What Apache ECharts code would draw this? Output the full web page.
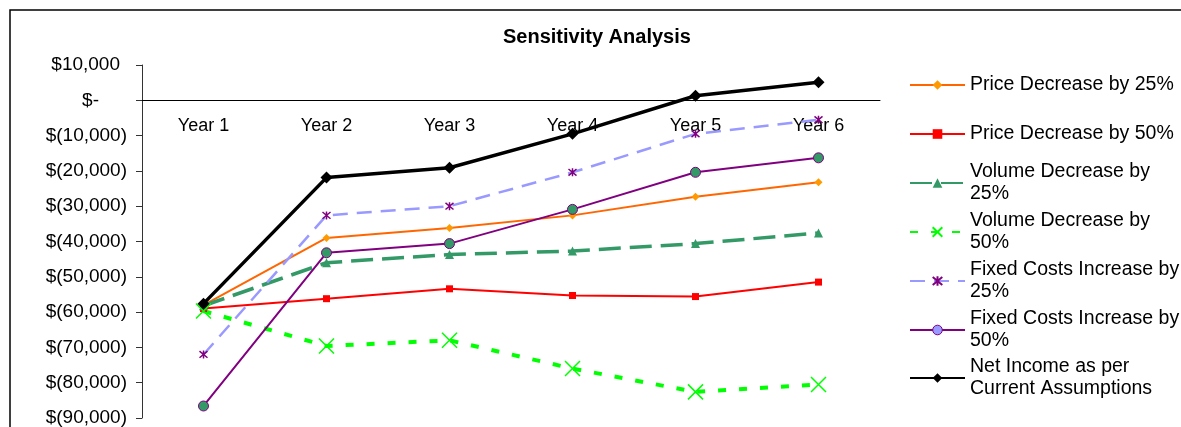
<!DOCTYPE html>
<html>
<head>
<meta charset="utf-8">
<script src="https://cdn.jsdelivr.net/npm/echarts@6/dist/echarts.min.js"></script>
<style>
  html, body { margin: 0; padding: 0; background: #ffffff; }
  #chart { width: 1181px; height: 427px; }
</style>
</head>
<body>
<div id="chart"></div>
<script>
// Categories
const years = ['Year 1', 'Year 2', 'Year 3', 'Year 4', 'Year 5', 'Year 6'];

// Net income per scenario, in dollars
const priceDecrease25 = [-58000, -39000, -36200, -32600, -27300, -23200];
const priceDecrease50 = [-59000, -56200, -53400, -55300, -55600, -51500];
const volumeDecrease25 = [-58200, -46000, -43700, -42700, -40600, -37600];
const volumeDecrease50 = [-59700, -69600, -68000, -76000, -82600, -80500];
const fixedCostsIncrease25 = [-72000, -32600, -30000, -20400, -9500, -5500];
const fixedCostsIncrease50 = [-86600, -43200, -40600, -30900, -20400, -16300];
const currentAssumptions = [-57600, -21900, -19100, -9500, 1300, 5100];

// Series names and their legend text
const seriesNames = [
  'Price Decrease by 25%',
  'Price Decrease by 50%',
  'Volume Decrease by 25%',
  'Volume Decrease by 50%',
  'Fixed Costs Increase by 25%',
  'Fixed Costs Increase by 50%',
  'Net Income as per Current Assumptions'
];
const legendText = [
  'Price Decrease by 25%',
  'Price Decrease by 50%',
  'Volume Decrease by\n25%',
  'Volume Decrease by\n50%',
  'Fixed Costs Increase by\n25%',
  'Fixed Costs Increase by\n50%',
  'Net Income as per\nCurrent Assumptions'
];

// Value axis range
const yMin = -90000;
const yMax = 10000;
const yStep = 10000;

const FONT = '"Liberation Sans", Arial, Helvetica, sans-serif';

// Accounting style: $10,000 / $- / $(10,000)
function money(v) {
  const abs = Math.abs(v).toLocaleString('en-US');
  if (v === 0) return '{z|$-}';
  if (v < 0) return '{n|$(' + abs + ')}';
  return '{p|$' + abs + '}';
}

const crossPath = 'path://M0,0L10,10M10,0L0,10';
const starPath = 'path://M0,0L10,10M10,0L0,10M5,-1L5,11';

const series = [
  {
    name: seriesNames[0], data: priceDecrease25,
    lineStyle: { color: '#FF6600', width: 2 },
    symbol: 'diamond', symbolSize: 8,
    itemStyle: { color: '#FF9900', borderColor: '#FF9900', borderWidth: 0 }
  },
  {
    name: seriesNames[1], data: priceDecrease50,
    lineStyle: { color: '#FF0000', width: 2 },
    symbol: 'rect', symbolSize: 7,
    itemStyle: { color: '#FF0000', borderColor: '#FF0000', borderWidth: 0 }
  },
  {
    name: seriesNames[2], data: volumeDecrease25,
    lineStyle: { color: '#339966', width: 3.5, type: [22, 9] },
    symbol: 'triangle', symbolSize: 9,
    itemStyle: { color: '#339966', borderColor: '#339966', borderWidth: 0 }
  },
  {
    name: seriesNames[3], data: volumeDecrease50,
    lineStyle: { color: '#00FF00', width: 4, type: [8, 13] },
    symbol: crossPath, symbolSize: 15,
    itemStyle: { color: 'rgba(0,0,0,0)', borderColor: '#00FF00', borderWidth: 1.5 }
  },
  {
    name: seriesNames[4], data: fixedCostsIncrease25,
    lineStyle: { color: '#9999FF', width: 2.5, type: [15, 9] },
    symbol: starPath, symbolSize: 8,
    itemStyle: { color: 'rgba(0,0,0,0)', borderColor: '#800080', borderWidth: 1.5 }
  },
  {
    name: seriesNames[5], data: fixedCostsIncrease50,
    lineStyle: { color: '#800080', width: 2 },
    symbol: 'circle', symbolSize: 10,
    itemStyle: { color: '#339966', borderColor: '#800080', borderWidth: 1 }
  },
  {
    name: seriesNames[6], data: currentAssumptions,
    lineStyle: { color: '#000000', width: 3.5 },
    symbol: 'diamond', symbolSize: 12,
    itemStyle: { color: '#000000', borderColor: '#000000', borderWidth: 0 }
  }
].map(s => Object.assign({
  type: 'line',
  showSymbol: true,
  showAllSymbol: true,
  emphasis: { disabled: true }
}, s));

// One legend block per entry, first text line level with the icon
const legendRows = [85, 134, 183, 232, 281, 330, 378];
const legends = seriesNames.map((name, i) => {
  const twoLine = legendText[i].indexOf('\n') >= 0;
  const item = (i === 5)
    ? { name: name, itemStyle: { color: '#9999FF', borderColor: '#800080', borderWidth: 1 } }
    : name;
  return {
    orient: 'vertical',
    left: 909,
    top: legendRows[i] - (twoLine ? 33 : 11),
    padding: 0,
    itemWidth: 55,
    itemHeight: 12,
    itemGap: 0,
    selectedMode: false,
    data: [item],
    formatter: () => legendText[i],
    textStyle: {
      fontFamily: FONT, fontSize: 19.5, lineHeight: 22, color: '#000000',
      padding: twoLine ? [22, 0, 0, 0] : 0
    }
  };
});

const labelFont = { fontFamily: FONT, fontSize: 19, color: '#000000' };

const GRID = { left: 142, right: 301, top: 65, bottom: 9 };
const CHART_H = 427;

// The category axis sits on the zero line, with its labels just below it
const plotH = CHART_H - GRID.top - GRID.bottom;
const zeroY = GRID.top + plotH * (yMax - 0) / (yMax - yMin);
const xAxisOffset = zeroY - (CHART_H - GRID.bottom);

const option = {
  animation: false,
  backgroundColor: '#ffffff',
  title: {
    text: 'Sensitivity Analysis',
    left: 503,
    top: 27,
    padding: 0,
    textStyle: { fontFamily: FONT, fontSize: 20, fontWeight: 'bold', color: '#000000', lineHeight: 20 }
  },
  graphic: [{
    type: 'rect',
    z: -10,
    shape: { x: 10, y: 10, width: 1300, height: 600 },
    style: { fill: 'none', stroke: '#000000', lineWidth: 1.5 },
    silent: true
  }],
  legend: legends,
  grid: Object.assign({ containLabel: false, outerBoundsMode: 'none' }, GRID),
  xAxis: {
    type: 'category',
    data: years,
    position: 'bottom',
    offset: xAxisOffset,
    boundaryGap: true,
    axisLine: { onZero: false, lineStyle: { color: '#000000', width: 1 } },
    axisTick: { show: false },
    splitLine: { show: false },
    axisLabel: { fontFamily: FONT, fontSize: 18, color: '#000000', margin: 17, lineHeight: 18 }
  },
  yAxis: {
    type: 'value',
    min: yMin,
    max: yMax,
    interval: yStep,
    axisLine: { show: true, lineStyle: { color: '#333333', width: 1 } },
    axisTick: { show: true, inside: false, length: 6, lineStyle: { color: '#333333' } },
    splitLine: { show: false },
    axisLabel: {
      margin: 15,
      formatter: money,
      rich: {
        n: Object.assign({}, labelFont),
        p: Object.assign({ padding: [0, 7, 0, 0] }, labelFont),
        z: Object.assign({ padding: [0, 28, 0, 0] }, labelFont)
      }
    }
  },
  series: series
};

const chart = echarts.init(document.getElementById('chart'), null, { renderer: 'canvas' });
chart.setOption(option);
</script>
</body>
</html>
